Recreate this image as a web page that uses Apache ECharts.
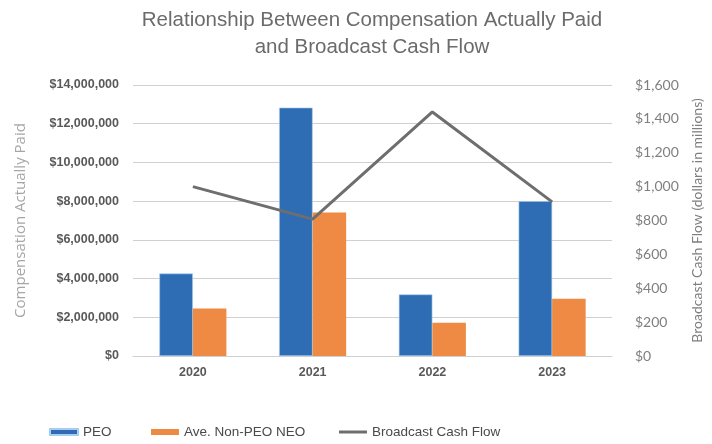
<!DOCTYPE html>
<html><head><meta charset="utf-8">
<script src="https://cdn.jsdelivr.net/npm/echarts@6/dist/echarts.min.js"></script>
<style>html,body{margin:0;padding:0;background:#fff}#c{width:712px;height:444px}</style>
</head><body><div id="c"></div>
<script>
const categories = ['2020', '2021', '2022', '2023'];
const peo = [4260000, 12830000, 3180000, 8000000];
const nonPeoNeo = [2460000, 7410000, 1720000, 2960000];
const cashFlow = [1000, 808, 1441, 910];
const leftTicks = { min: 0, max: 14000000, interval: 2000000 };
const rightTicks = { min: 0, max: 1600, interval: 200 };

const fmt = v => '$' + Number(v).toLocaleString('en-US');
const chart = echarts.init(document.getElementById('c'));
const legendText = { color: '#4a4a4a', fontSize: 13.5, fontFamily: 'Liberation Sans, Arial, sans-serif' };
chart.setOption({
  animation: false,
  title: {
    text: 'Relationship Between Compensation Actually Paid\nand Broadcast Cash Flow',
    left: 367, top: 2, textAlign: 'center',
    textStyle: { color: '#6b6b6b', fontSize: 20.5, fontWeight: 'normal', fontFamily: 'Liberation Sans, Arial, sans-serif', lineHeight: 27 }
  },
  grid: { left: 133, right: 94, top: 85, bottom: 88 },
  legend: [
    { data: ['PEO'], left: 44, top: 420, itemWidth: 28, itemHeight: 6, itemGap: 4, textStyle: legendText, icon: 'rect' },
    { data: ['Ave. Non-PEO NEO'], left: 146, top: 420, itemWidth: 28, itemHeight: 6, textStyle: legendText, icon: 'rect' },
    { data: ['Broadcast Cash Flow'], left: 334, top: 420, itemWidth: 28, itemHeight: 3, textStyle: legendText, icon: 'rect' }
  ],
  xAxis: {
    type: 'category', data: categories,
    axisLine: { lineStyle: { color: '#d0d0d0', width: 1 } },
    axisTick: { show: false },
    axisLabel: { color: '#595959', fontSize: 12.5, fontWeight: 'bold', fontFamily: 'Liberation Sans, Arial, sans-serif', margin: 10 }
  },
  yAxis: [
    {
      type: 'value', min: leftTicks.min, max: leftTicks.max, interval: leftTicks.interval,
      name: 'Compensation Actually Paid', nameLocation: 'middle', nameGap: 105, nameRotate: 90,
      nameTextStyle: { color: '#a6a6a6', fontSize: 15, fontFamily: 'Open Sans, Liberation Sans, sans-serif' },
      axisLine: { show: false }, axisTick: { show: false },
      axisLabel: { formatter: fmt, color: '#595959', fontSize: 12.5, fontWeight: 'bold', fontFamily: 'Liberation Sans, Arial, sans-serif', margin: 14 },
      splitLine: { lineStyle: { color: '#d0d0d0', width: 1 } }
    },
    {
      type: 'value', min: rightTicks.min, max: rightTicks.max, interval: rightTicks.interval,
      name: 'Broadcast Cash Flow (dollars in millions)', nameLocation: 'middle', nameGap: 78, nameRotate: 90,
      nameTextStyle: { color: '#7f7f7f', fontSize: 14, fontFamily: 'Lato, Open Sans, sans-serif' },
      axisLine: { show: false }, axisTick: { show: false },
      axisLabel: { formatter: fmt, color: '#7f7f7f', fontSize: 14, fontFamily: 'Lato, Open Sans, sans-serif', margin: 23 },
      splitLine: { show: false }
    }
  ],
  series: [
    { name: 'PEO', type: 'bar', data: peo, yAxisIndex: 0, barGap: '0%', barCategoryGap: '44%',
      itemStyle: { color: '#2e6db4', borderColor: '#a9cdf0', borderWidth: 0.6 } },
    { name: 'Ave. Non-PEO NEO', type: 'bar', data: nonPeoNeo, yAxisIndex: 0,
      itemStyle: { color: '#ee8a43' } },
    { name: 'Broadcast Cash Flow', type: 'line', data: cashFlow, yAxisIndex: 1,
      symbol: 'none', lineStyle: { color: '#6e6e6e', width: 3 }, itemStyle: { color: '#6e6e6e' } }
  ]
});
</script></body></html>
